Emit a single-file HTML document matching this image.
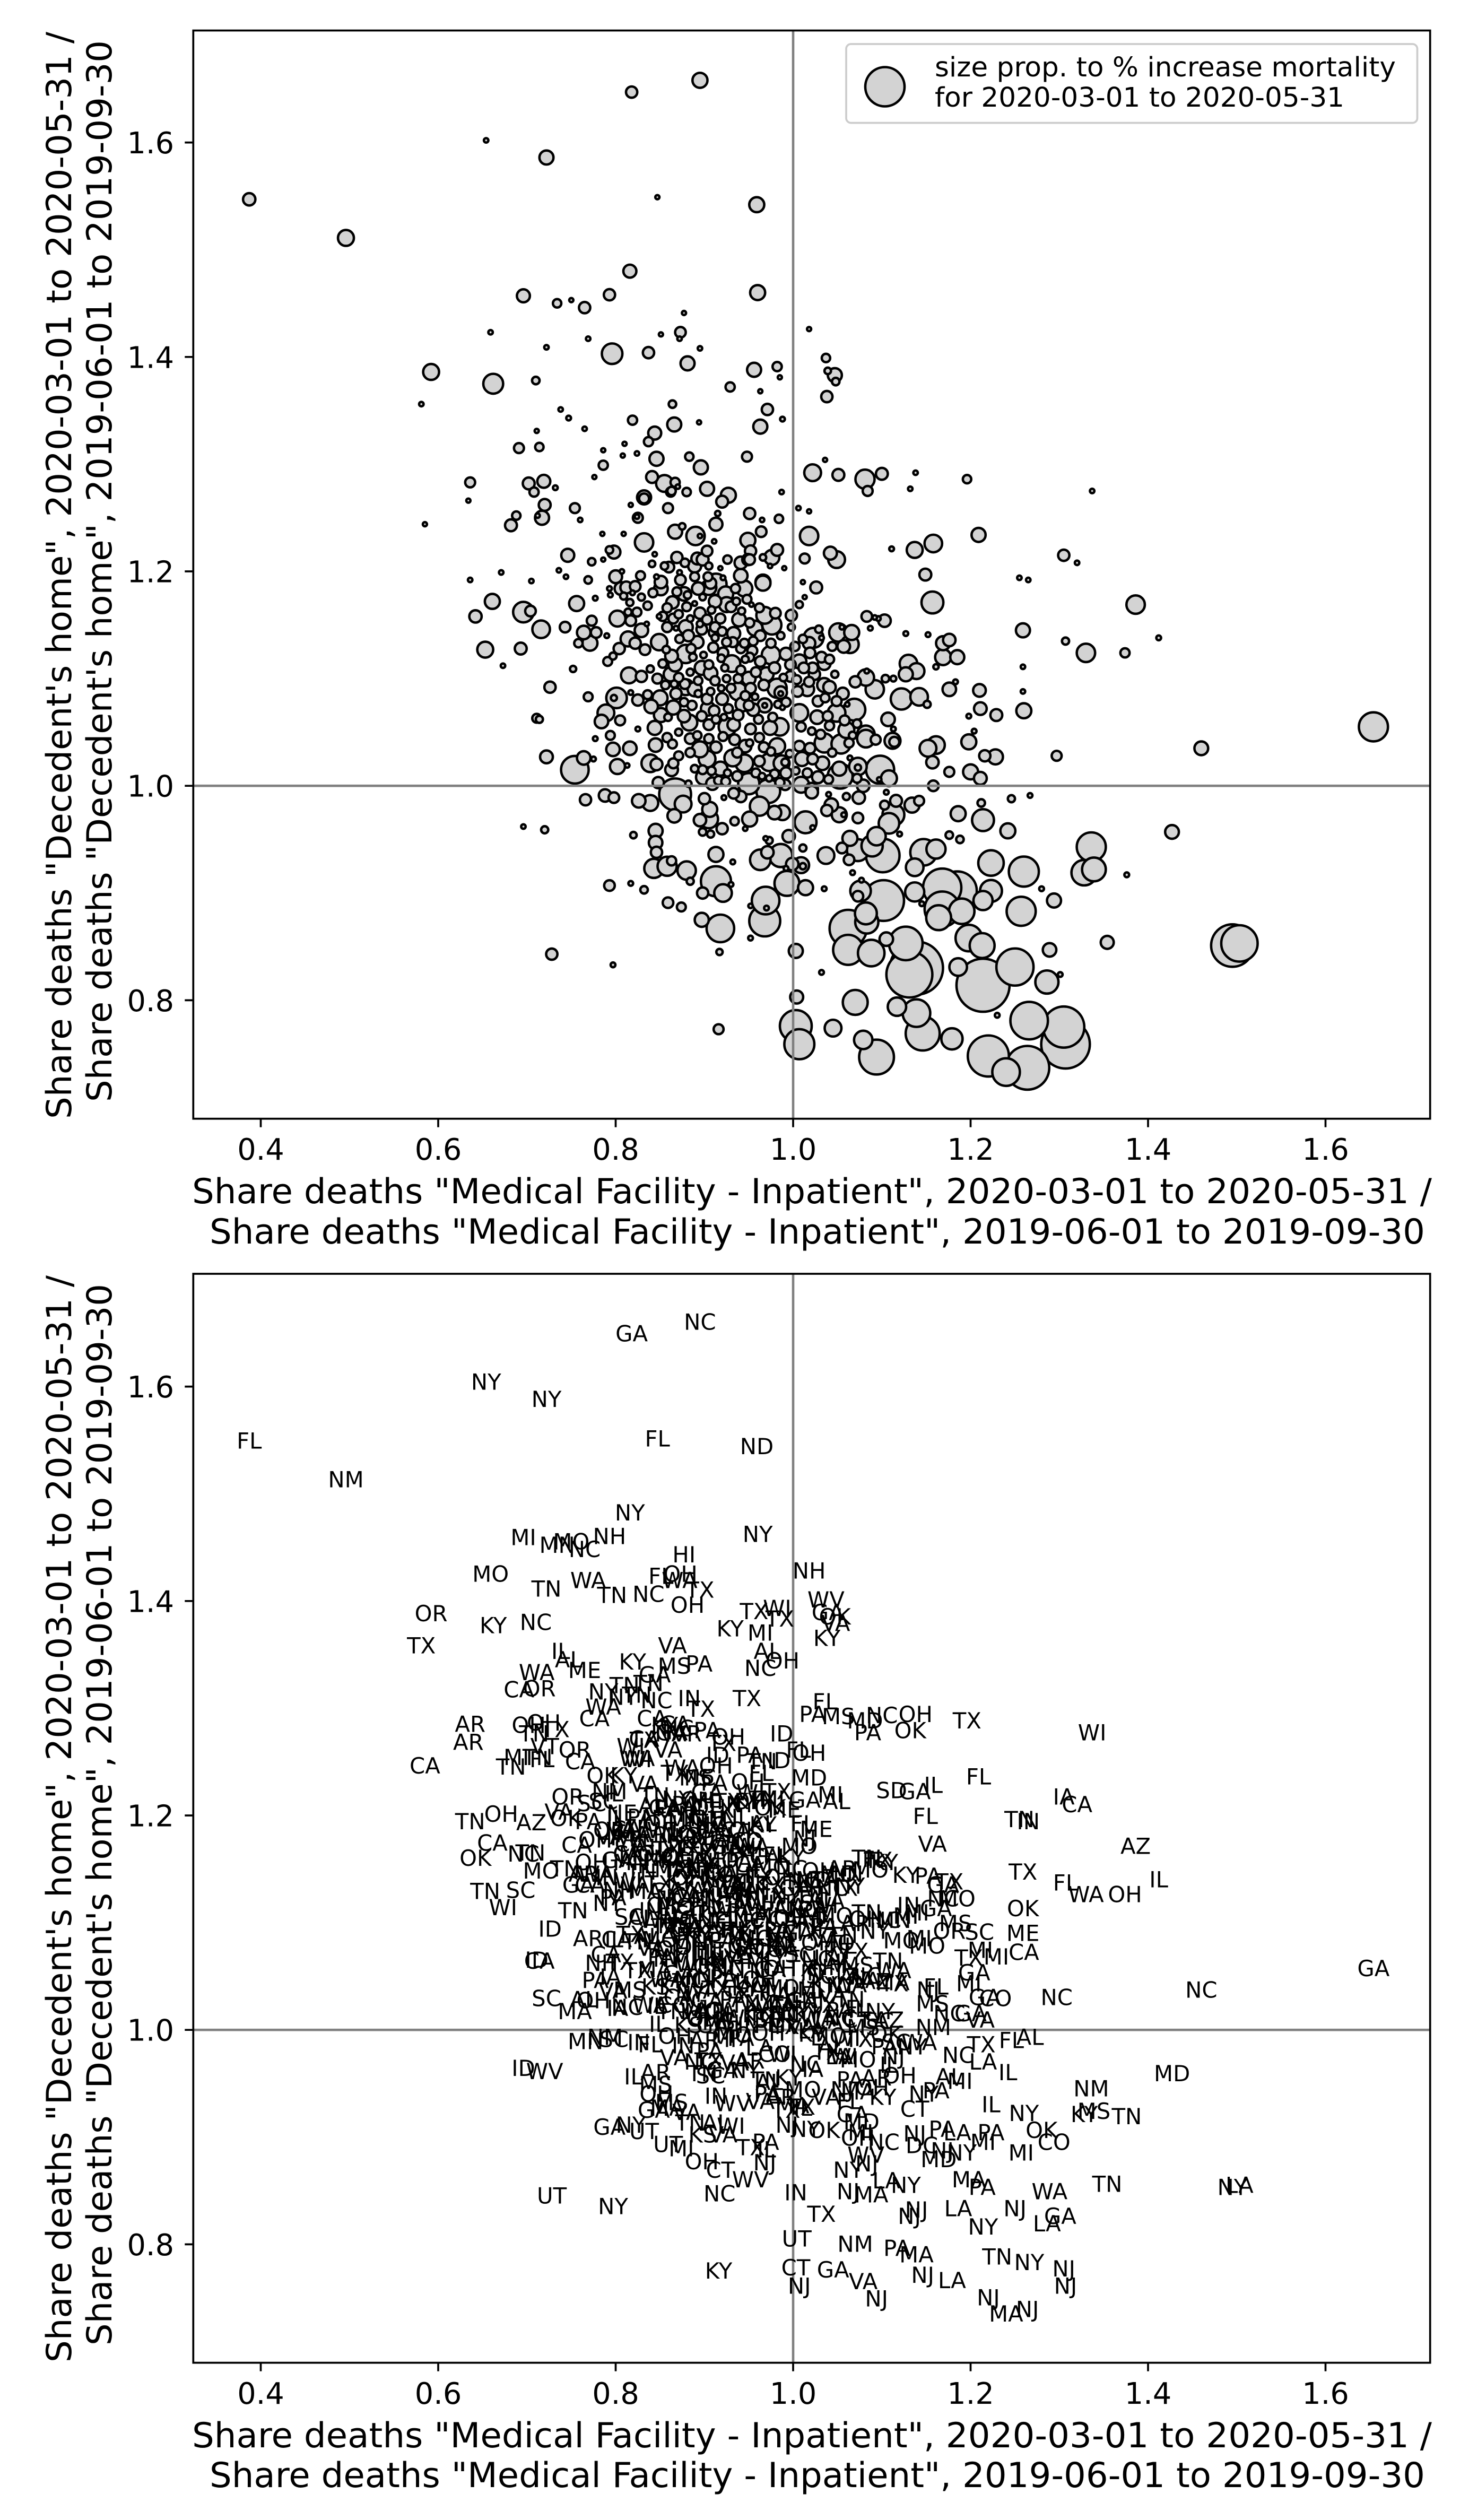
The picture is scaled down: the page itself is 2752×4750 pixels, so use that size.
<!DOCTYPE html>
<html lang="en">
<head>
<meta charset="utf-8">
<title>Share of deaths at home versus inpatient medical facility</title>
<style>
html,body{margin:0;padding:0;background:#fff;}
svg{display:block;}
text{font-family:"DejaVu Sans","Liberation Sans",sans-serif;fill:#000;}
.axis-label{font-size:65px;}
.legend-text{font-size:51px;}
</style>
</head>
<body>
<svg id="figure" xmlns="http://www.w3.org/2000/svg" width="2752" height="4750" viewBox="0 0 2752 4750">
  <rect x="0" y="0" width="2752" height="4750" fill="#fff"/>
  <g id="panel-top"></g>
  <g id="panel-bottom"></g>

  <g>
    <rect x="1595" y="83" width="1076.5" height="148.6" rx="9" fill="#fff" fill-opacity="0.8" stroke="#ccc" stroke-width="3.7"/>
    <circle cx="1668" cy="163.5" r="37" fill="#d3d3d3" stroke="#000" stroke-width="4.6"/>
    <text class="legend-text" x="1762" y="144" textLength="869" lengthAdjust="spacingAndGlyphs">size prop. to % increase mortality</text>
    <text class="legend-text" x="1762" y="201" textLength="772" lengthAdjust="spacingAndGlyphs">for 2020-03-01 to 2020-05-31</text>
  </g>

  <text class="axis-label" x="362" y="2268" textLength="2337" lengthAdjust="spacingAndGlyphs">Share deaths "Medical Facility - Inpatient", 2020-03-01 to 2020-05-31 /</text>
  <text class="axis-label" x="395" y="2344" textLength="2291" lengthAdjust="spacingAndGlyphs">Share deaths "Medical Facility - Inpatient", 2019-06-01 to 2019-09-30</text>
  <text class="axis-label" transform="translate(134,2109) rotate(-90)" textLength="2049" lengthAdjust="spacingAndGlyphs">Share deaths "Decedent's home", 2020-03-01 to 2020-05-31 /</text>
  <text class="axis-label" transform="translate(210,2077) rotate(-90)" textLength="2001" lengthAdjust="spacingAndGlyphs">Share deaths "Decedent's home", 2019-06-01 to 2019-09-30</text>

  <text class="axis-label" x="362" y="4613" textLength="2337" lengthAdjust="spacingAndGlyphs">Share deaths "Medical Facility - Inpatient", 2020-03-01 to 2020-05-31 /</text>
  <text class="axis-label" x="395" y="4688" textLength="2291" lengthAdjust="spacingAndGlyphs">Share deaths "Medical Facility - Inpatient", 2019-06-01 to 2019-09-30</text>
  <text class="axis-label" transform="translate(134,4453) rotate(-90)" textLength="2049" lengthAdjust="spacingAndGlyphs">Share deaths "Decedent's home", 2020-03-01 to 2020-05-31 /</text>
  <text class="axis-label" transform="translate(210,4421) rotate(-90)" textLength="2001" lengthAdjust="spacingAndGlyphs">Share deaths "Decedent's home", 2019-06-01 to 2019-09-30</text>
</svg>

<script>
const xTickValues = [0.4, 0.6, 0.8, 1.0, 1.2, 1.4, 1.6];
const yTickValues = [0.8, 1.0, 1.2, 1.4, 1.6];
const xTickLabels = ['0.4', '0.6', '0.8', '1.0', '1.2', '1.4', '1.6'];
const yTickLabels = ['0.8', '1.0', '1.2', '1.4', '1.6'];

const xValues = [
.387,.496,.654,.722,.818,.895,.847,.816,.696,.734,
.750,.765,.793,.877,.659,.873,.851,.872,.769,.722,
.796,.837,.881,.895,.592,.662,.710,.581,.929,.864,
.738,.747,.819,.866,.894,.711,.765,.844,.837,.691,
.714,.786,.810,.808,.824,.846,.883,.786,.896,.776,
.636,.702,.719,.732,.708,.841,.855,.870,.863,.880,
.903,.927,.920,.832,.634,.720,.754,.817,.859,.688,
.825,.717,.760,.682,.585,.913,.875,.867,.785,.809,
.890,.832,.911,.746,.798,.903,.844,.773,.786,.869,
.892,.898,.841,.860,.889,.918,.671,.736,.744,.636,
.705,.769,.959,.960,1.018,1.037,1.039,1.047,1.048,1.038,
.956,.982,.985,.963,.971,.988,.963,.948,1.036,1.022,
1.051,1.081,1.100,1.084,1.138,1.132,1.196,1.337,.987,1.006,
1.018,.951,.965,.984,.964,1.018,1.111,1.137,1.158,1.209,
1.042,1.049,1.013,1.305,1.320,1.149,1.255,1.265,.949,.952,
.949,.982,.976,.966,.974,.990,.966,1.157,1.011,1.026,
1.013,1.007,1.083,1.092,1.096,1.103,1.087,1.127,1.152,1.259,
1.386,1.412,1.374,1.330,1.307,1.023,1.018,1.032,1.051,1.066,
1.055,1.044,1.057,1.064,1.169,1.176,1.169,1.185,1.161,1.259,
1.259,1.183,1.176,1.210,1.211,1.198,1.229,1.260,1.204,1.130,
1.139,1.127,1.104,1.113,1.082,1.070,1.092,1.083,1.122,1.142,
1.151,1.107,1.113,1.069,1.049,1.027,1.039,1.041,1.007,1.056,
1.049,1.036,1.028,1.061,1.035,1.041,1.016,1.005,1.035,1.032,
1.022,1.012,1.024,1.007,1.060,1.082,.712,.867,.862,.832,
.824,.915,.895,.793,.951,.941,.941,.945,.948,.953,
.966,.800,.807,.828,.806,.812,.822,.793,.794,.777,
.819,.809,.816,.846,.851,.851,.842,.872,.873,.889,
.877,.864,.880,.889,.893,.905,.913,.907,.904,.921,
.924,.912,.925,.756,.802,.814,.824,.817,.716,.743,
.773,.764,.778,.771,.758,.790,.704,.849,.865,.895,
.903,.895,.858,.879,.882,.868,.892,.829,.835,.814,
.822,.804,.797,.791,.833,.849,.879,.863,.887,.867,
.853,.897,.907,.905,.752,.815,.829,.839,.847,.862,
.726,.912,.911,.912,.920,.933,.939,.957,.968,.980,
.976,.963,.998,.998,.925,.932,.945,.955,.921,.954,
.946,.931,.923,.975,.992,.979,.970,.997,.997,.925,
.938,.950,.930,.938,.952,.957,.982,.986,.986,.801,
.798,.817,.769,.711,.714,.825,.836,.850,.868,.878,
.879,.889,.893,.907,.840,.865,.877,.903,.920,.904,
.911,.927,.943,.950,.955,.968,.968,.977,.992,.988,
.789,.784,.805,.851,.859,.877,.883,.905,.926,.933,
.952,.974,.985,.844,.825,.777,.794,.797,.816,.845,
.864,.895,.913,.722,.764,.754,.775,.802,.813,.839,
.846,.865,.863,.903,.898,.918,.899,.932,.934,.945,
.946,.962,.967,.982,.973,.991,.987,.992,.979,.973,
.950,.909,.916,.924,.848,.867,.876,.882,.866,.766,
.788,.798,.826,.839,.900,.906,.905,.895,.898,.907,
.920,.934,.951,.922,.933,.941,.972,.962,.979,.988,
.946,.995,.991,.720,.820,.845,.845,.846,.843,.858,
.863,.880,.884,.793,.817,.832,.859,.874,.913,.932,
.913,.921,.898,.930,.897,.918,.917,.952,.728,.797,
.969,.968,.952,.970,.963,.971,.986,.993,.973,.969,
.999,.992,1.003,1.004,.916,1.035,1.054,1.082,1.093,1.112,
1.114,1.007,1.019,1.067,1.010,1.033,1.022,1.052,1.064,1.073,
1.073,1.072,1.098,1.108,1.097,1.053,1.028,1.009,1.021,1.021,
1.079,1.074,1.060,1.040,1.105,1.152,1.161,1.157,1.198,1.216,
1.228,1.297,1.176,1.200,1.211,1.158,1.267,1.246,1.212,1.186,
1.214,1.242,1.176,1.188,1.116,1.103,1.134,1.142,1.113,1.108,
1.120,1.043,1.038,1.052,1.057,1.073,1.014,1.022,1.064,1.094,
1.073,1.089,1.101,1.055,1.063,1.037,1.011,1.009,1.011,1.147,
1.161,1.137,1.067,1.223,1.260,1.077,1.035,1.014,1.076,1.073,
1.102,1.137,1.168,1.185,1.223,1.214,1.280,1.294,1.145,1.082,
1.083,1.062,1.164,1.190,1.168,1.257,1.198,1.213,1.289,1.062,
1.088,1.105,1.127,1.139,1.131,1.250,1.214,1.186,1.286,1.032,
1.654,1.460,1.427,1.336,1.328,1.339,1.376,1.354,1.301,1.495,
1.503,1.266,1.305,1.307,1.264,1.220,1.240,1.179,1.146,1.139,
1.117,1.070,1.045,1.003,1.007,1.079,1.094,1.230,.642,.661,
.696,.653,.693,.673,.696,
.858,.871,.884,.897,.908,.918,.930,.942,.951,.962,
.872,.885,.899,.910,.919,.941,.951,.963,.975,.986,
.857,.871,.884,.893,.912,.919,.941,.958,.967,.989,
.856,.866,.886,.897,.913,.922,.938,.946,.961,.983,
.858,.871,.884,.892,.905,.921,.937,.951,.962,.975,
.871,.884,.889,.908,.926,.937,.958,.965,.985,.996,
1.002,1.011,1.019,1.029,1.041,1.047,1.004,1.018,1.009,1.021,
1.031,1.044,1.003,1.016,1.040,1.058,1.072,1.063,.905,.926,
.878,.855,.935,.898,.869,.936,.829,.836,.853,.881
];

const yValues = [
1.547,1.511,1.602,1.586,1.647,1.658,1.549,1.480,1.457,1.450,
1.453,1.446,1.458,1.441,1.423,1.423,1.421,1.417,1.417,1.409,
1.403,1.404,1.394,1.408,1.386,1.375,1.378,1.356,1.372,1.356,
1.351,1.343,1.341,1.337,1.339,1.331,1.333,1.329,1.321,1.315,
1.316,1.313,1.319,1.308,1.310,1.305,1.307,1.299,1.297,1.288,
1.283,1.282,1.284,1.278,1.274,1.288,1.282,1.279,1.275,1.274,
1.277,1.271,1.265,1.269,1.266,1.262,1.259,1.262,1.259,1.252,
1.250,1.250,1.248,1.243,1.244,1.244,1.242,1.237,1.235,1.235,
1.233,1.227,1.228,1.215,1.218,1.219,1.216,1.209,1.211,1.213,
1.212,1.211,1.207,1.204,1.205,1.203,1.199,1.201,1.195,1.192,
1.191,1.192,1.542,1.460,1.426,1.399,1.387,1.383,1.377,1.363,
1.388,1.391,1.381,1.368,1.351,1.342,1.335,1.307,1.304,1.292,
1.290,1.286,1.291,1.275,1.292,1.277,1.286,1.275,1.274,1.259,
1.256,1.254,1.248,1.249,1.237,1.233,1.221,1.220,1.226,1.234,
1.217,1.211,1.212,1.215,1.208,1.197,1.194,1.192,1.229,1.219,
1.211,1.220,1.213,1.213,1.205,1.203,1.190,1.171,1.190,1.185,
1.176,1.169,1.158,1.157,1.156,1.154,1.147,1.142,1.141,1.145,
1.169,1.138,1.124,1.124,1.135,1.138,1.133,1.138,1.143,1.143,
1.148,1.130,1.130,1.132,1.133,1.136,1.120,1.120,1.111,1.111,
1.088,1.097,1.090,1.089,1.072,1.065,1.066,1.070,1.051,1.114,
1.107,1.104,1.100,1.100,1.101,1.097,1.090,1.107,1.081,1.083,
1.076,1.062,1.053,1.071,1.068,1.064,1.065,1.056,1.068,1.086,
1.079,1.082,1.079,1.076,1.094,1.092,1.090,1.088,1.114,1.120,
1.110,1.110,1.104,1.116,1.052,1.048,1.252,1.283,1.274,1.268,
1.251,1.254,1.233,1.220,1.211,1.208,1.196,1.184,1.174,1.169,
1.189,1.195,1.200,1.196,1.184,1.185,1.186,1.184,1.178,1.175,
1.180,1.177,1.171,1.195,1.190,1.184,1.180,1.199,1.192,1.195,
1.179,1.171,1.167,1.170,1.184,1.185,1.188,1.189,1.195,1.194,
1.179,1.172,1.169,1.170,1.156,1.162,1.162,1.154,1.146,1.148,
1.154,1.143,1.143,1.133,1.133,1.140,1.163,1.158,1.156,1.161,
1.155,1.151,1.148,1.148,1.140,1.147,1.134,1.145,1.151,1.137,
1.133,1.128,1.121,1.116,1.127,1.134,1.123,1.121,1.120,1.113,
1.114,1.110,1.105,1.113,1.109,1.103,1.102,1.109,1.100,1.104,
1.092,1.148,1.143,1.138,1.144,1.142,1.155,1.147,1.159,1.161,
1.150,1.140,1.159,1.148,1.134,1.134,1.133,1.135,1.124,1.126,
1.118,1.114,1.110,1.122,1.123,1.110,1.104,1.113,1.102,1.100,
1.100,1.100,1.091,1.088,1.091,1.083,1.091,1.087,1.086,1.082,
1.082,1.087,1.083,1.063,1.062,1.080,1.085,1.082,1.086,1.095,
1.092,1.090,1.086,1.088,1.074,1.073,1.078,1.081,1.081,1.072,
1.070,1.072,1.076,1.075,1.071,1.075,1.075,1.064,1.078,1.073,
1.068,1.060,1.061,1.066,1.064,1.065,1.059,1.057,1.055,1.057,
1.053,1.054,1.055,1.054,1.053,1.044,1.047,1.034,1.035,1.038,
1.039,1.034,1.036,1.027,1.026,1.015,1.025,1.018,1.019,1.021,
1.020,1.021,1.015,1.025,1.015,1.016,1.008,1.026,1.043,1.021,
1.037,1.023,1.036,1.037,1.022,1.022,1.021,1.012,1.011,1.007,
1.002,1.002,1.005,1.004,1.003,.992,.983,1.002,.972,.987,
.991,.989,.986,.984,.988,.978,.969,.968,.957,.955,
.960,.967,.969,.989,.993,.990,.995,.981,.975,.975,
.960,.953,1.001,.959,.954,.958,.947,.938,.923,.925,
.930,.921,.911,.907,.909,.903,.891,.887,.936,.929,
.911,.900,.900,.908,.875,.867,.845,.858,.843,.833,
.893,.874,.888,.886,.931,.938,.935,.909,.949,.951,
.927,.923,.846,.803,.773,1.040,1.039,1.044,1.043,1.042,
1.041,1.037,1.035,1.047,1.025,1.021,1.025,1.016,1.026,1.018,
1.017,1.007,1.015,1.007,1.006,1.009,1.008,1.001,.997,.994,
1.000,.989,.990,.992,.994,1.035,1.038,1.022,1.041,1.028,
1.027,1.028,1.013,1.013,1.007,1.000,.991,.988,.984,.974,
.968,.958,.954,.950,.986,.982,.982,.986,.973,.965,
.955,.982,.977,.973,.973,.970,.966,.961,.951,.953,
.940,.944,.935,.942,.931,.935,.942,.926,.925,.938,
.941,.924,.919,.928,.920,.912,.904,.905,.902,.897,
.893,.901,.905,.902,.902,.893,.904,.893,.890,.881,
.873,.867,.877,.883,.885,.883,.858,.851,.847,.847,
.844,.857,.853,.830,.824,.831,.814,.831,.817,.826,
1.055,1.035,.957,.943,.919,.922,.917,.854,.824,.851,
.853,.781,.775,.759,.737,.748,.733,.764,.769,.788,
.794,.798,.774,.776,.759,.763,.747,.786,1.158,1.172,
1.162,1.127,1.128,1.112,.962,
1.166,1.160,1.156,1.146,1.164,1.156,1.167,1.163,1.152,1.166,
1.137,1.128,1.122,1.129,1.119,1.128,1.120,1.116,1.133,1.140,
1.127,1.101,1.106,1.098,1.098,1.091,1.108,1.106,1.094,1.101,
1.094,1.095,1.075,1.065,1.062,1.064,1.066,1.084,1.062,1.076,
1.045,1.050,1.044,1.047,1.044,1.046,1.031,1.040,1.045,1.032,
1.028,1.031,1.016,1.014,1.012,1.009,1.012,1.009,1.003,1.030,
1.130,1.137,1.124,1.146,1.118,1.104,1.099,1.097,1.055,1.051,
1.048,1.031,1.014,1.012,1.006,1.061,1.058,1.040,1.205,1.211,
1.208,1.205,1.184,1.176,1.181,1.172,1.176,1.168,1.158,1.178
];

const sizeValues = [
5.4,9,.7,7,4.5,8,.6,6,6,2.5,
.6,4.5,4.5,.6,.7,4,.6,.7,.7,.7,
15,4.5,7,.7,9,14,2,.7,3,2,
.7,.8,3,7,.6,.6,.7,6,3,3.5,
2.5,.6,.6,.6,.7,7,2.5,3,7,.6,
3.5,5,6,.8,3,5,10,.7,2.5,2.5,
7,8,5,7,.6,5,3.5,.6,3.5,2.5,
3.5,7,.7,5,.6,6,1.5,7,.6,.6,
12,12,.7,6,6,4,.7,2,.6,4.5,
5,5,1.5,4,6,.6,.7,.7,.7,.7,
.7,2,8,8,.6,2.5,1.5,7,2,4.5,
7,3,.6,.6,4.5,.8,7,3.5,.6,10,
5,13,5,3.5,.7,.7,2.5,.7,.7,.7,
.6,4.5,.7,2.5,4,12,.8,9,11,7,
6,10,3.5,4.5,.7,5,.7,.7,8,4.5,
4.5,5,8,1.5,.7,.6,8,17,.6,5,
.6,1.8,4,.7,.8,5.5,.8,.8,.8,7,
12,.8,3,12,1.8,14,5.5,.8,12,8,
.8,2.8,5.7,11,7,5.5,9,7,1,.7,
.7,.8,6.5,5.7,5.7,.8,5,8,.8,11,
9,7,2,1.2,9.5,4.5,12,.8,16,11,
1.8,6.5,.8,17,11,6.5,3.5,3,11,5,
3.5,2.8,4,.7,7,5.5,6.5,4,5.7,4,
4,4,4.5,7,9,11,.7,3,3,3.5,
.7,1,.7,2,4,5.5,6.5,9,2.8,.7,
8,5.8,.7,2.8,5.8,5,4,.8,.8,.8,
.8,1.8,1.8,.8,5.5,6.5,2.8,.8,4,2.8,
6.5,5.5,2.8,.8,5.5,8,16,4.5,2.8,.8,
8,5.5,8,8,9,1.8,2.8,4,11,4,
3.5,6.5,4,8,2.5,.8,4,.8,3.5,4.5,
3.5,1.5,3.5,7,4.5,.8,5.5,6.5,.7,8,
4.5,4.5,1.8,2.8,4,9.5,12,5.8,2,6.5,
2.5,7,6.5,2.8,1.4,9,4.5,1.8,3.5,7,
4.5,3.5,4,1.8,2.8,6,6.5,8,10,4,
13,4,4.5,1.8,2.8,3.5,2.8,2.8,4,3.5,
1.8,10,1.8,12,5.5,4.5,7,4,4,2,
2.8,6.5,2.8,11,4,1.5,13,5.5,.8,15,
1.3,.8,2.8,2.8,1.8,4.5,2.8,8,4.5,3.5,
9,7,1.8,2,6.5,7,2.5,4,5,7,
4,2.8,7,3.5,5.5,7,.8,2.8,3,.8,
10,6.5,3.5,7,2,5.5,9,4,11,5.5,
4,7,11,7,.8,.8,2.8,6.5,6.5,6.5,
2.8,9,4.5,5.8,6.5,27,.8,8,.7,11,
5,3.5,5.8,10,2.8,7,8,10,4,11,
5.5,4,3.5,9,11,2,9,4.5,2.8,1.5,
16,5.5,2.8,2.8,4.5,36,10,1.4,6.5,4.5,
5.5,4,6.5,9,4.5,8,12,5.5,2,1.8,
4.5,2.5,8,.8,4,4.5,20,13,6.5,8,
.7,5.5,4,1.8,1.5,7,6.5,4.5,13,13,
3,12,1.8,4,.8,2,4,2.8,8,.8,
32,11,4.5,.8,7,27,1.4,.8,4.5,.8,
27,34,.7,.8,15,5.5,19,22,1.8,.7,
5.5,.8,7,6,3.5,13,13,11,3.5,9,
3.5,4,4,2,7,6.5,4,7,.8,11,
1.4,2.8,28,9,.7,22,5,9,5.5,5.5,
5.5,5.5,1.8,.8,.8,10,11,5.5,8,4.5,
8,3.5,3.5,8,5.8,4,.8,1.8,2,8,
17,8,2,2,5,2.8,8,3.5,17,15,
.8,6.5,4.5,8,.8,4,17,.8,8,12,
17,16,40,4,4,10,1.8,9,1.4,25,
13,11,.8,23,32,.8,.8,8,15,4,
59,13,52,54,17,13,.8,7,.8,17,
19,49,22,23,44,30,25,22,6.5,32,
25,6.5,40,100,75,49,100,11,19,.8,
30,6.7,6.7,30,23,20,.8,6,.8,64,
47,50,60,84,68,60,27,16,41,27,
12,22,10,36,32,12,43,.8,5.4,8,
15,9,5,.7,.7,
3,2.5,1.5,4,2,3.5,4,1.8,3,2.8,
2.5,3,1.5,3.5,2,3,2.8,4,3,2,
2,3,1.8,2.5,3,1.5,2.8,3.5,4,2,
2.5,1.8,3,3.5,2.5,1.5,4,3,2.8,2,
3,1.8,4,2.5,3,2.8,3.5,1.8,3,2.5,
2.8,3,2,2.5,1.8,3.5,2.8,1.5,3,2,
3,2.5,4,2,3,1.8,2.8,3.5,3,2,
3,2.5,2,3,2.8,3.5,2.5,3,1.8,2.5,
2.5,2,3,1.5,2.8,2,1.8,2.5,3,2
];

const stateValues = [
'FL','NM','NY','NY','GA','NC','FL','NY','MI','MN',
'MO','NC','NH','HI','MO','OH','FL','WA','WA','TN',
'TN','NC','OH','TX','OR','KY','NC','TX','KY','VA',
'IL','AL','KY','MS','PA','WA','ME','GA','TN','CA',
'OR','NY','TN','NY','TN','NC','IN','WA','TX','CA',
'AR','OH','OH','TX','TN','CA','KY','NC','GA','AR',
'PA','OH','TX','CA','AR','VT','OR','WI','VA','MI',
'WI','FL','CA','TN','CA','OH','WA','TX','OK','KY',
'MS','VA','PA','OR','IL','GA','TN','SC','SC','NY',
'OH','MI','AL','PA','AL','TX','OH','VA','OK','TN',
'AZ','PA','ND','NY','NH','WV','GA','OK','VA','KY',
'TX','WI','TX','MI','AL','OH','NC','TX','FL','PA',
'MS','MD','NC','PA','OH','OK','TX','WI','ID','FL',
'OH','PA','TN','ID','FL','MD','SD','GA','IL','FL',
'MI','AL','GA','IA','CA','FL','TN','IN','OH','WI',
'KY','TX','MI','TX','OK','ME','AL','VA','FL','ME',
'NJ','MO','TN','FL','TX','KY','MO','KY','PA','TX',
'AZ','IL','OH','WA','FL','MD','LA','GA','MO','IN',
'AR','NC','TX','NY','GA','TX','NC','MO','GA','OK',
'ME','MS','OR','SC','MI','TX','MI','CA','GA','IN',
'MI','MI','NC','MN','OH','AR','NY','TN','MO','MI',
'MO','TN','WA','TX','KY','NC','LA','NM','SC','TN',
'MO','VA','OH','IL','PA','FL','TX','GA','WI','AL',
'CA','NC','MI','KS','TX','NC','TN','CA','NV','TX',
'WA','ID','NC','NM','OH','NY','IL','OK','CO','WA',
'KY','IL','NE','PA','VA','CA','AL','OR','VA','OH',
'MA','PA','CA','NY','OH','WI','AR','TN','MI','IN',
'MO','NY','TX','KY','SC','PA','LA','NC','OH','TN',
'FL','VA','GA','CA','GA','CA','MO','MN','MO','TN',
'OH','AR','WA','CA','GA','IN','TN','NC','PA','TX',
'FL','NY','MI','AL','OH','TX','KY','TN','IL','WI',
'VA','NH','PA','NY','MA','TX','CA','NC','AL','MO',
'OR','TN','KY','IL','TN','SC','AL','IN','WA','FL',
'ID','MI','TX','NY','GA','OH','PA','IL','CA','FL',
'MO','TX','KY','NC','VA','TN','AL','OK','OH','MN',
'SC','GA','WI','TX','NY','PA','MI','CA','OH','FL',
'IN','NC','TN','TX','KY','MO','PA','VA','NY','CA',
'IL','TX','AR','ID','CA','TN','AL','MO','AR','WA',
'GA','TX','KY','NY','VA','OH','MI','NC','PA','FL',
'IL','TN','CA','SC','MO','TX','OH','KY','AL','GA',
'CA','NH','TX','PA','NY','MI','WI','OK','NC','IN',
'TN','GA','OH','MA','TX','PA','IA','VA','MS','KS',
'KY','WA','TX','SC','AL','MA','OH','IA','NC','WA',
'IL','CO','TN','GA','MO','CA','OH','PA','FL','TX',
'KY','NY','AL','MI','VA','TN','LA','NC','OK','SC',
'IN','GA','MS','WI','IL','OH','IN','KS','VA','MN',
'NM','SC','IN','FL','AR','PA','TX','NC','TN','SC',
'GA','VA','AR','MI','MO','PA','OH','LA','CO','WI',
'NY','KY','TX','WV','IL','AR','MS','OH','GA','MA',
'MS','VA','TN','GA','NY','UT','UT','MI','IN','WV',
'AL','VA','KS','WI','OH','CT','NC','WV','UT','NY',
'PA','NJ','TX','IL','VA','PA','AR','NJ','AL','TN',
'MA','TX','IN','UT','KY','KY','NY','VA','AZ','MA',
'TX','OH','MI','AL','GA','TX','NJ','PA','TN','FL',
'IL','CT','NY','AZ','SC','NC','WA','VA','LA','KY',
'MS','TX','WI','MO','OK','NJ','FL','MS','MI','GA',
'CO','NC','NC','GA','VA','NM','AL','FL','TX','NC',
'LA','IL','AL','MI','SC','PA','NY','WA','NJ','IL',
'OH','AL','TX','LA','WI','MO','NC','IA','PA','AR',
'MA','OH','KY','NJ','FL','VA','MO','TX','IL','NY',
'PA','CT','GA','IL','NY','MD','OK','NY','MI','OH',
'NC','NJ','PA','LA','PA','MI','OK','CO','DC','WV',
'NJ','NY','MD','NY','NJ','MI','MA','PA','WA','NJ',
'MA','LA','NY','NJ','NJ','NJ','NY','LA','LA','TX',
'GA','NC','MD','NM','KY','MS','TN','TN','GA','NY',
'LA','NY','NJ','NJ','NJ','NJ','MA','LA','NJ','MA',
'PA','NM','GA','CT','NJ','VA','NJ','TN','OK','CA',
'NC','TN','SC','WI','ID',
'TX','OH','GA','NC','FL','MO','TN','PA','CA','IL',
'KY','VA','MI','AL','NY','WA','IN','WI','TX','OH',
'GA','NC','SC','TN','MO','AR','PA','LA','FL','CA',
'TX','MS','OH','IL','KY','NY','VA','AL','MI','IN',
'WA','GA','NC','TN','OK','PA','TX','MO','OH','FL',
'CA','NY','VA','AR','IL','WI','KY','TX','MI','AL',
'GA','NC','TN','OH','CA','MO','PA','FL','TX','IN',
'SC','VA','NY','KY','LA','IL','MS','WA','OH','TX',
'PA','GA','CA','MI','NC','TN','FL','AL','MO','KY'
];

const svgNS = 'http://www.w3.org/2000/svg';
const PLOT_LEFT = 364.3, PLOT_RIGHT = 2695.7;
const topPanel = { root: document.getElementById('panel-top'), top: 57.5, bottom: 2108.7, zeroY: 1481.2, tickBaseline: 2186 };
const bottomPanel = { root: document.getElementById('panel-bottom'), top: 2401, bottom: 4453.6, zeroY: 3826.2, tickBaseline: 4531 };

function xScale(v) { return 1495 + (v - 1) * 1672.5; }
function yScale(panel, v) { return panel.zeroY - (v - 1) * 2021; }
function bubbleRadius(v) { return 5 * Math.sqrt(v); }

function make(tag, parent, attrs) {
  const el = document.createElementNS(svgNS, tag);
  Object.keys(attrs).forEach(function (k) { el.setAttribute(k, attrs[k]); });
  parent.appendChild(el);
  return el;
}

const pointCount = Math.min(xValues.length, yValues.length, sizeValues.length, stateValues.length);

function drawReferenceLines(panel) {
  const h = make('line', panel.root, { x1: PLOT_LEFT, x2: PLOT_RIGHT, y1: yScale(panel, 1), y2: yScale(panel, 1), stroke: '#808080', 'stroke-width': 4.6 });
  
  
  const v = make('line', panel.root, { x1: xScale(1), x2: xScale(1), y1: panel.top, y2: panel.bottom, stroke: '#808080', 'stroke-width': 4.6 });
  
  
}

function drawAxes(panel) {
  xTickValues.forEach(function (t, i) {
    const x = xScale(t);
    const mark = make('line', panel.root, { x1: x, x2: x, y1: panel.bottom, y2: panel.bottom + 16, stroke: '#000', 'stroke-width': 3.7 });
    
    
    const label = make('text', panel.root, { x: x, y: panel.tickBaseline, 'text-anchor': 'middle', 'font-size': 55.7 });
    
    
    label.textContent = xTickLabels[i];
  });
  yTickValues.forEach(function (t, i) {
    const y = yScale(panel, t);
    const mark = make('line', panel.root, { x1: PLOT_LEFT - 16, x2: PLOT_LEFT, y1: y, y2: y, stroke: '#000', 'stroke-width': 3.7 });
    
    
    const label = make('text', panel.root, { x: 328, y: y + 20.5, 'text-anchor': 'end', 'font-size': 55.7 });
    
    
    label.textContent = yTickLabels[i];
  });
  const frame = make('rect', panel.root, { x: PLOT_LEFT, y: panel.top, width: PLOT_RIGHT - PLOT_LEFT, height: panel.bottom - panel.top, fill: 'none', stroke: '#000', 'stroke-width': 3.7 });
  
  
}

function drawBubbles(panel) {
  const order = [];
  for (let i = 0; i < pointCount; i++) { order.push(i); }
  order.sort(function (a, b) { return sizeValues[b] - sizeValues[a]; });
  order.forEach(function (i) {
    const c = make('circle', panel.root, {
      cx: xScale(xValues[i]),
      cy: yScale(panel, yValues[i]),
      r: bubbleRadius(sizeValues[i]),
      fill: '#d3d3d3',
      stroke: '#000',
      'stroke-width': 4.6
    });
    
    
  });
}

function drawStateLabels(panel) {
  for (let i = 0; i < pointCount; i++) {
    const t = make('text', panel.root, {
      x: xScale(xValues[i]),
      y: yScale(panel, yValues[i]) + 10,
      'text-anchor': 'middle',
      'font-size': 41.8
    });
    
    
    t.textContent = stateValues[i];
  }
}

drawBubbles(topPanel);
drawReferenceLines(topPanel);
drawAxes(topPanel);

drawReferenceLines(bottomPanel);
drawStateLabels(bottomPanel);
drawAxes(bottomPanel);
</script>
</body>
</html>
